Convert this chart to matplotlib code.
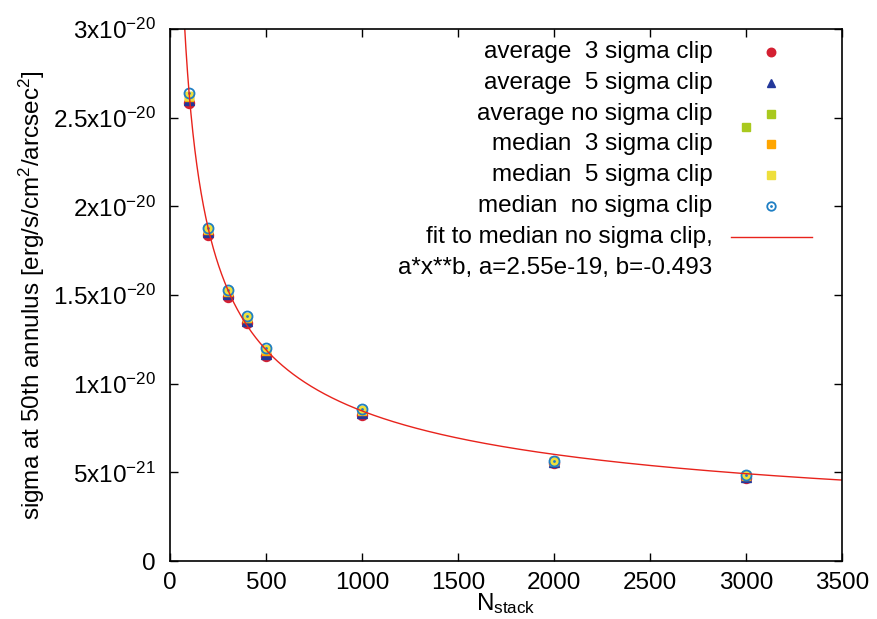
import numpy as np
import matplotlib
import matplotlib.pyplot as plt

matplotlib.use("agg")

plt.rcParams["font.family"] = ["Liberation Sans", "DejaVu Sans"]
plt.rcParams["mathtext.fontset"] = "custom"
plt.rcParams["mathtext.rm"] = "Liberation Sans"
plt.rcParams["mathtext.it"] = "Liberation Sans"

# stack sizes
n_stack = [100, 200, 300, 400, 500, 1000, 2000, 3000]

# sigma at the 50th annulus for each combine method
avg_3sig = [2.58e-20, 1.84e-20, 1.49e-20, 1.342e-20, 1.156e-20, 0.823e-20, 0.553e-20, 0.468e-20]
avg_5sig = [2.60e-20, 1.855e-20, 1.505e-20, 1.355e-20, 1.17e-20, 0.835e-20, 0.558e-20, 0.475e-20]
avg_nosig = [2.62e-20, 1.87e-20, 1.52e-20, 1.372e-20, 1.19e-20, 0.85e-20, 0.562e-20, 2.45e-20]
med_3sig = [2.615e-20, 1.868e-20, 1.518e-20, 1.37e-20, 1.185e-20, 0.848e-20, 0.562e-20, 0.482e-20]
med_5sig = [2.625e-20, 1.875e-20, 1.525e-20, 1.378e-20, 1.195e-20, 0.853e-20, 0.564e-20, 0.484e-20]
med_nosig = [2.64e-20, 1.878e-20, 1.528e-20, 1.382e-20, 1.201e-20, 0.857e-20, 0.564e-20, 0.485e-20]

# power law fit to median no sigma clip
fit_a = 2.55e-19
fit_b = -0.493

y_ticks = [0, 5e-21, 1e-20, 1.5e-20, 2e-20, 2.5e-20, 3e-20]
y_tick_labels = ["0", r"$\mathregular{5x10^{-21}}$", r"$\mathregular{1x10^{-20}}$",
                 r"$\mathregular{1.5x10^{-20}}$", r"$\mathregular{2x10^{-20}}$",
                 r"$\mathregular{2.5x10^{-20}}$", r"$\mathregular{3x10^{-20}}$"]

series = [
    ("average  3 sigma clip", avg_3sig, dict(marker="o", color="#d42032", ms=7.2, ls="none")),
    ("average  5 sigma clip", avg_5sig, dict(marker="^", color="#23389a", ms=6.8, ls="none")),
    ("average no sigma clip", avg_nosig, dict(marker="s", color="#a9c91e", ms=6, ls="none")),
    ("median  3 sigma clip", med_3sig, dict(marker="s", color="#ffa500", ms=6, ls="none")),
    ("median  5 sigma clip", med_5sig, dict(marker="s", color="#eedf3c", ms=6, ls="none")),
    ("median  no sigma clip", med_nosig, dict(marker="o", mfc="none", mec="#1f7fc4", mew=1.3,
                                              ms=7.2, ls="none")),
]

fig = plt.figure(figsize=(8.77, 6.19), dpi=100)
ax = fig.add_axes([170 / 877, 1 - 561 / 619, 672 / 877, 532 / 619])

for label, vals, style in series:
    ax.plot(n_stack, vals, **style)
# dot in the middle of the open circles
ax.plot(n_stack, med_nosig, ls="none", marker=".", color="#1f7fc4", ms=2)

xf = np.linspace(50, 3500, 2000)
ax.plot(xf, fit_a * xf ** fit_b, color="#e8231c", lw=1.0)

ax.set_xlim(0, 3500)
ax.set_ylim(0, 3e-20)
ax.set_xticks(np.arange(0, 3501, 500))
ax.set_yticks(y_ticks)
ax.set_yticklabels(y_tick_labels)
ax.tick_params(direction="in", length=6, width=1, labelsize=17.5, top=True, right=True)
ax.tick_params(axis="y", pad=10)
ax.tick_params(axis="x", pad=8)
for sp in ax.spines.values():
    sp.set_linewidth(1.2)

ax.set_xlabel(r"N$_{\mathregular{stack}}$", fontsize=17.5, labelpad=-2)
ax.set_ylabel(r"sigma at 50th annulus [erg/s/cm$^{\mathregular{2}}$/arcsec$^{\mathregular{2}}$]",
              fontsize=17.5, labelpad=4)

# key, right aligned text with samples to the right
tx, mx = 0.807, 0.894
row_y = [1 - (52 - 29) / 532 - k * 30.8 / 532 for k in range(8)]
for k, (label, vals, style) in enumerate(series):
    ax.text(tx, row_y[k], label, transform=ax.transAxes, ha="right", va="center", fontsize=17.5)
    st = dict(style)
    st["ms"] = st["ms"] * 0.85
    ax.plot([mx], [row_y[k]], transform=ax.transAxes, clip_on=False, **st)
    if k == 5:
        ax.plot([mx], [row_y[k]], transform=ax.transAxes, marker=".", color="#1f7fc4", ms=2)
ax.text(tx, row_y[6], "fit to median no sigma clip,", transform=ax.transAxes,
        ha="right", va="center", fontsize=17.5)
ax.text(tx, row_y[7], "a*x**b, a=2.55e-19, b=-0.493", transform=ax.transAxes,
        ha="right", va="center", fontsize=17.5)
ax.plot([0.835, 0.955], [row_y[6], row_y[6]], transform=ax.transAxes, color="#e8231c", lw=1.0)

fig.savefig("out.png", dpi=100)
